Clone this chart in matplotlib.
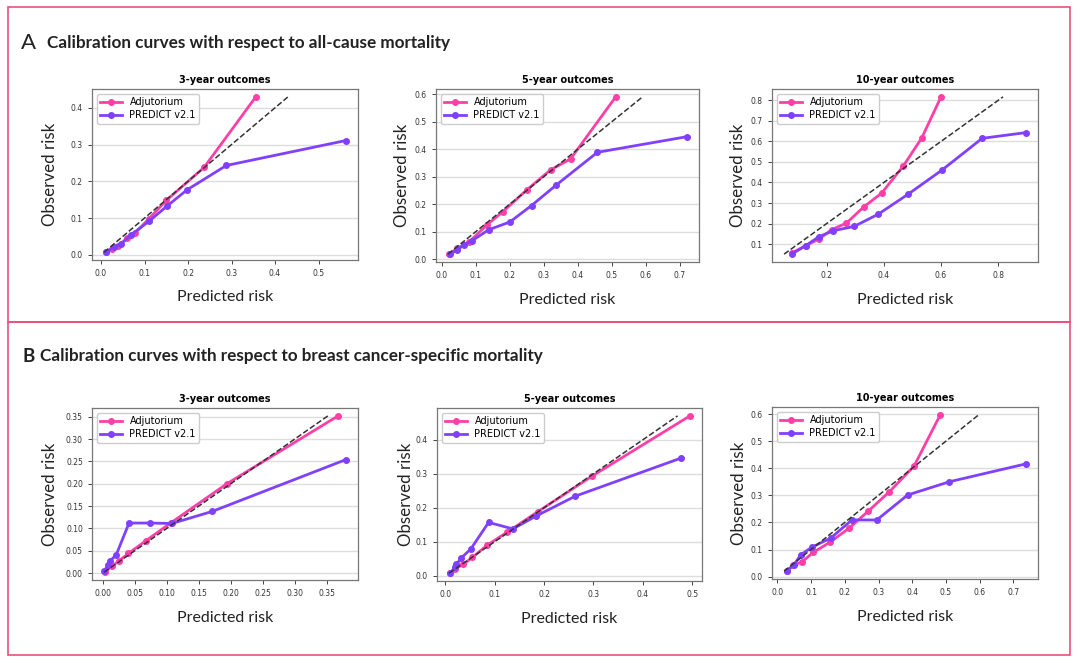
import matplotlib
matplotlib.use('Agg')
import matplotlib.pyplot as plt
from matplotlib.patches import Rectangle

# Colours
adj_col = '#ff3fa8'
pred_col = '#8040ff'
box_col = '#e8507f'

# Panel titles and section headings
outcomes = ['3-year outcomes', '5-year outcomes', '10-year outcomes']
headings = ['Calibration curves with respect to all-cause mortality',
            'Calibration curves with respect to breast cancer-specific mortality']

# A: all-cause mortality (predicted, observed)
a3_adj_x = [0.012, 0.025, 0.04, 0.06, 0.078, 0.11, 0.15, 0.237, 0.356]
a3_adj_y = [0.008, 0.015, 0.025, 0.045, 0.059, 0.098, 0.148, 0.238, 0.43]
a3_pred_x = [0.011, 0.03, 0.046, 0.07, 0.111, 0.151, 0.198, 0.288, 0.563]
a3_pred_y = [0.007, 0.02, 0.03, 0.055, 0.092, 0.132, 0.177, 0.243, 0.311]

a5_adj_x = [0.021, 0.046, 0.08, 0.133, 0.18, 0.25, 0.32, 0.379, 0.512]
a5_adj_y = [0.018, 0.04, 0.062, 0.125, 0.173, 0.252, 0.325, 0.365, 0.591]
a5_pred_x = [0.024, 0.046, 0.065, 0.089, 0.138, 0.2, 0.264, 0.337, 0.458, 0.722]
a5_pred_y = [0.018, 0.034, 0.052, 0.067, 0.107, 0.135, 0.195, 0.27, 0.389, 0.446]

a10_adj_x = [0.078, 0.127, 0.173, 0.217, 0.269, 0.329, 0.392, 0.467, 0.533, 0.6]
a10_adj_y = [0.056, 0.093, 0.124, 0.17, 0.202, 0.28, 0.348, 0.478, 0.618, 0.817]
a10_pred_x = [0.078, 0.127, 0.173, 0.223, 0.296, 0.381, 0.485, 0.603, 0.744, 0.897]
a10_pred_y = [0.051, 0.093, 0.136, 0.165, 0.186, 0.246, 0.343, 0.46, 0.615, 0.643]

# B: breast cancer-specific mortality
b3_adj_x = [0.004, 0.015, 0.025, 0.04, 0.067, 0.106, 0.194, 0.368]
b3_adj_y = [0.003, 0.016, 0.027, 0.044, 0.072, 0.112, 0.2, 0.352]
b3_pred_x = [0.002, 0.008, 0.012, 0.021, 0.041, 0.074, 0.108, 0.171, 0.38]
b3_pred_y = [0.004, 0.018, 0.028, 0.041, 0.112, 0.112, 0.111, 0.138, 0.254]

b5_adj_x = [0.01, 0.02, 0.037, 0.055, 0.085, 0.125, 0.188, 0.297, 0.495]
b5_adj_y = [0.008, 0.02, 0.034, 0.054, 0.09, 0.128, 0.189, 0.293, 0.47]
b5_pred_x = [0.01, 0.02, 0.023, 0.033, 0.052, 0.088, 0.137, 0.183, 0.263, 0.477]
b5_pred_y = [0.008, 0.025, 0.034, 0.053, 0.079, 0.157, 0.138, 0.175, 0.234, 0.346]

b10_adj_x = [0.028, 0.046, 0.073, 0.106, 0.155, 0.212, 0.27, 0.332, 0.405, 0.483]
b10_adj_y = [0.02, 0.042, 0.054, 0.089, 0.126, 0.178, 0.242, 0.313, 0.407, 0.597]
b10_pred_x = [0.028, 0.048, 0.07, 0.103, 0.158, 0.221, 0.295, 0.386, 0.51, 0.737]
b10_pred_y = [0.02, 0.042, 0.081, 0.109, 0.142, 0.209, 0.209, 0.301, 0.35, 0.416]

panels = [
    (a3_adj_x, a3_adj_y, a3_pred_x, a3_pred_y),
    (a5_adj_x, a5_adj_y, a5_pred_x, a5_pred_y),
    (a10_adj_x, a10_adj_y, a10_pred_x, a10_pred_y),
    (b3_adj_x, b3_adj_y, b3_pred_x, b3_pred_y),
    (b5_adj_x, b5_adj_y, b5_pred_x, b5_pred_y),
    (b10_adj_x, b10_adj_y, b10_pred_x, b10_pred_y),
]

W, H = 1080, 663
fig = plt.figure(figsize=(W / 100, H / 100), dpi=100)

# Axes boxes in pixels: left, top, right, bottom
boxes = [(92, 89, 358, 260), (436, 89, 699, 262), (772, 89, 1038, 262),
         (92, 408, 358, 580), (437, 408, 702, 581), (772, 407, 1038, 579)]
ylab_x = [-0.128, -0.10, -0.098, -0.128, -0.087, -0.093]

label_font = 'Lato'

for i, (ax_x, ax_y, px, py) in enumerate(panels):
    l, t, r, b = boxes[i]
    ax = fig.add_axes([l / W, 1 - b / H, (r - l) / W, (b - t) / H])

    ax.plot(ax_x, ax_y, '-o', color=adj_col, lw=2, ms=4, label='Adjutorium')
    ax.plot(px, py, '-o', color=pred_col, lw=2, ms=4, label='PREDICT v2.1')

    # Perfect calibration reference line
    lo = min(min(ax_x), min(px), min(ax_y), min(py))
    hi = max(max(ax_y), max(py))
    ax.plot([lo, hi], [lo, hi], '--', color='#333333', lw=1.1)

    ax.set_title(outcomes[i % 3], fontsize=7, fontweight='bold', pad=4)
    ax.grid(axis='y', color='#dddddd', lw=1)
    ax.set_axisbelow(True)
    ax.tick_params(labelsize=5.5, labelcolor='#333333', length=3, width=0.7,
                   color='#444444')
    for sp in ax.spines.values():
        sp.set_color('#777777')
        sp.set_linewidth(0.9)
    ax.legend(loc='upper left', fontsize=7, handlelength=2.2,
              borderpad=0.35, labelspacing=0.3, framealpha=1,
              edgecolor='#cccccc')

    ax.set_ylabel('Observed risk', fontsize=12.2, family=label_font,
                  color='#222222')
    ax.yaxis.set_label_coords(ylab_x[i], 0.5)
    ax.set_xlabel('Predicted risk', fontsize=11.5, family=label_font,
                  color='#222222')
    ax.xaxis.set_label_coords(0.5, -0.178)

# Section frames
fig.patches.append(Rectangle((8 / W, 1 - 322 / H), 1062 / W, 315 / H,
                             transform=fig.transFigure, fill=False,
                             edgecolor=box_col, lw=1.2))
fig.patches.append(Rectangle((8 / W, 1 - 655 / H), 1062 / W, 333 / H,
                             transform=fig.transFigure, fill=False,
                             edgecolor=box_col, lw=1.2))

# Section headings
fig.text(21 / W, 1 - 43 / H, 'A', fontsize=16, family=label_font,
         va='center', color='#222222')
fig.text(47 / W, 1 - 43 / H, headings[0], fontsize=12.3, family=label_font,
         fontweight='bold', va='center', color='#222222')
fig.text(23 / W, 1 - 356 / H, 'B', fontsize=13.5, family=label_font,
         fontweight='bold', va='center', color='#222222')
fig.text(40 / W, 1 - 356 / H, headings[1], fontsize=12.3, family=label_font,
         fontweight='bold', va='center', color='#222222')

fig.savefig('out.png', dpi=100)
